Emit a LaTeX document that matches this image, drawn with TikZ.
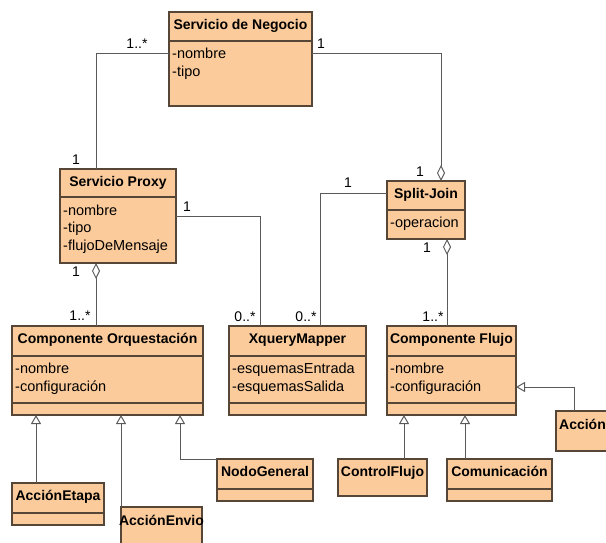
\documentclass[tikz,border=0pt]{standalone}
\usepackage{fontspec}
\setmainfont{Liberation Sans}
\usetikzlibrary{arrows.meta}
\definecolor{clsfill}{RGB}{252,203,155}
\definecolor{clsdraw}{RGB}{85,70,55}
\definecolor{conn}{RGB}{90,90,90}
\tikzset{
  cls/.style={draw=clsdraw, fill=clsfill, line width=1.1pt, anchor=north west, inner sep=0pt, outer sep=0pt},
  divline/.style={draw=clsdraw, line width=1.1pt},
  ttl/.style={font=\fontsize{14}{16}\selectfont\bfseries, anchor=base, inner sep=0pt},
  attr/.style={font=\fontsize{14.5}{17}\selectfont, anchor=base west, inner sep=0pt},
  mult/.style={font=\fontsize{14}{16}\selectfont, anchor=center, inner sep=0pt},
  conline/.style={draw=conn, line width=1pt},
  agg/.style={conline, {Diamond[open, length=16pt, width=8pt]}-},
  gen/.style={conline, -{Triangle[open, length=9pt, width=10pt]}},
}
\begin{document}
\begin{tikzpicture}[x=1pt, y=-1pt]
\fill[white] (0,0) rectangle (606,543);
\useasboundingbox (0,0) rectangle (606,543);

% ---- Servicio de Negocio
\node[cls, minimum width=143pt, minimum height=94pt] (sn) at (169,12) {};
\draw[divline] (sn.west |- 0,41) -- (sn.east |- 0,41);
\node[ttl] (snt) at (240.5,30) {Servicio de Negocio};
\node[attr] (sna1) at (172,59) {-nombre};
\node[attr] (sna2) at (172,76.5) {-tipo};

% ---- Servicio Proxy
\node[cls, minimum width=116pt, minimum height=94pt] (sp) at (60,169) {};
\draw[divline] (sp.west |- 0,197) -- (sp.east |- 0,197);
\node[ttl] (spt) at (118,186.5) {Servicio Proxy};
\node[attr] (spa1) at (63,215) {-nombre};
\node[attr] (spa2) at (63,232.5) {-tipo};
\node[attr] (spa3) at (63,250) {-flujoDeMensaje};

% ---- Split-Join
\node[cls, minimum width=78pt, minimum height=58pt] (sj) at (387,181) {};
\draw[divline] (sj.west |- 0,210) -- (sj.east |- 0,210);
\node[ttl] (sjt) at (426,198.5) {Split-Join};
\node[attr] (sja1) at (390,227.5) {-operacion};

% ---- Componente Orquestacion
\node[cls, minimum width=191pt, minimum height=89pt] (co) at (12,326) {};
\draw[divline] (co.west |- 0,356) -- (co.east |- 0,356);
\draw[divline] (co.west |- 0,403) -- (co.east |- 0,403);
\node[ttl] (cot) at (107.5,343.5) {Componente Orquestación};
\node[attr] (coa1) at (15,373.5) {-nombre};
\node[attr] (coa2) at (15,391) {-configuración};

% ---- XqueryMapper
\node[cls, minimum width=137pt, minimum height=89pt] (xm) at (229,326) {};
\draw[divline] (xm.west |- 0,356) -- (xm.east |- 0,356);
\draw[divline] (xm.west |- 0,403) -- (xm.east |- 0,403);
\node[ttl] (xmt) at (297.5,343.5) {XqueryMapper};
\node[attr] (xma1) at (232,373.5) {-esquemasEntrada};
\node[attr] (xma2) at (232,391) {-esquemasSalida};

% ---- Componente Flujo
\node[cls, minimum width=129pt, minimum height=89pt] (cf) at (387,326) {};
\draw[divline] (cf.west |- 0,356) -- (cf.east |- 0,356);
\draw[divline] (cf.west |- 0,403) -- (cf.east |- 0,403);
\node[ttl] (cft) at (451.5,343.5) {Componente Flujo};
\node[attr] (cfa1) at (390,373.5) {-nombre};
\node[attr] (cfa2) at (390,391) {-configuración};

% ---- AccionEtapa
\node[cls, minimum width=92pt, minimum height=42pt] (ae) at (12,483) {};
\draw[divline] (ae.west |- 0,513) -- (ae.east |- 0,513);
\node[ttl] (aet) at (58,500.5) {AcciónEtapa};

% ---- AccionEnvio
\node[cls, minimum width=81pt, minimum height=60pt] (aen) at (121,507) {};
\node[ttl] (aent) at (161.5,525) {AcciónEnvio};

% ---- NodoGeneral
\node[cls, minimum width=96pt, minimum height=42pt] (ng) at (217,459) {};
\draw[divline] (ng.west |- 0,489) -- (ng.east |- 0,489);
\node[ttl] (ngt) at (265,476.5) {NodoGeneral};

% ---- ControlFlujo
\node[cls, minimum width=89pt, minimum height=37pt] (cfl) at (338,459) {};
\node[ttl] (cflt) at (382.5,476.5) {ControlFlujo};

% ---- Comunicacion
\node[cls, minimum width=105pt, minimum height=42pt] (com) at (447,459) {};
\draw[divline] (com.west |- 0,489) -- (com.east |- 0,489);
\node[ttl] (comt) at (499.5,476.5) {Comunicación};

% ---- Accion
\node[cls, minimum width=53pt, minimum height=40pt] (acc) at (556,411) {};
\node[ttl] (acct) at (582.5,429) {Acción};

% ---- Associations
\draw[conline] (sn.west |- 0,54) -| (sp.north -| 96,0);
\draw[agg] (sj.north -| 441,0) |- (sn.east |- 0,54);
\draw[conline] (sp.east |- 0,216) -| (xm.north -| 260,0);
\draw[conline] (sj.west |- 0,193) -| (xm.north -| 320,0);
\draw[agg] (sp.south -| 96,0) -- (co.north -| 96,0);
\draw[agg] (sj.south -| 447,0) -- (cf.north -| 447,0);

% ---- Generalizations
\draw[gen] (ae.north -| 36,0) -- (co.south -| 36,0);
\draw[gen] (aen.north -| 121,0) -- (co.south -| 121,0);
\draw[gen] (ng.north west) -| (co.south -| 180,0);
\draw[gen] (cfl.north -| 404,0) -- (cf.south -| 404,0);
\draw[gen] (com.north -| 465,0) -- (cf.south -| 465,0);
\draw[gen] (acc.north -| 574,0) |- (cf.east |- 0,387);

% ---- Multiplicities
\node[mult] (m1) at (137,44) {1..*};
\node[mult] (m2) at (76,160) {1};
\node[mult] (m3) at (321,44) {1};
\node[mult] (m4) at (420,172) {1};
\node[mult] (m5) at (348,183) {1};
\node[mult] (m6) at (187,207) {1};
\node[mult] (m7) at (76,272) {1};
\node[mult] (m8) at (80,316) {1..*};
\node[mult] (m9) at (245,317) {0..*};
\node[mult] (m10) at (306,317) {0..*};
\node[mult] (m11) at (427,248) {1};
\node[mult] (m12) at (433,317) {1..*};
\end{tikzpicture}
\end{document}
